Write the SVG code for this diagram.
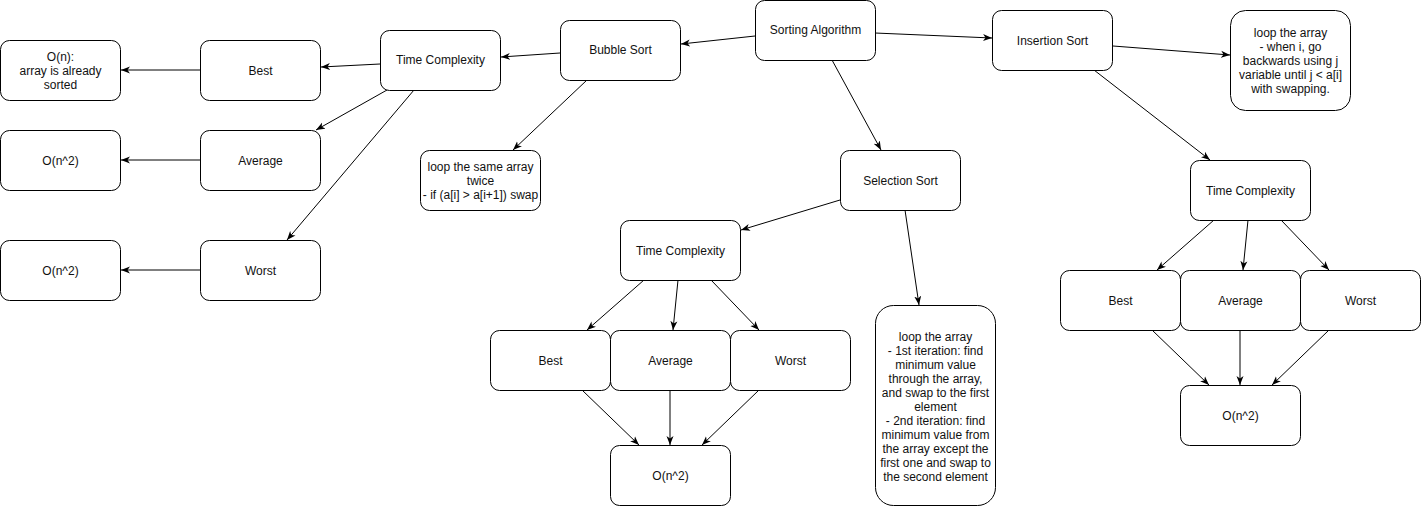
<svg xmlns="http://www.w3.org/2000/svg" width="1421" height="506" viewBox="0 0 1421 506">
<style>
.n rect{fill:#fff;stroke:#000;stroke-width:1}
.n text{font-family:"Liberation Sans",Arial,Helvetica,sans-serif;font-size:12px;fill:#111;text-anchor:middle}
.e line{stroke:#000;stroke-width:1;marker-end:url(#arr)}
</style>
<defs>
<marker id="arr" markerUnits="userSpaceOnUse" markerWidth="10" markerHeight="8" viewBox="0 0 10 8" refX="9" refY="4" orient="auto">
<path d="M0,0.5 L9,4 L0,7.5 L2.5,4 Z" fill="#000"/>
</marker>
</defs>
<rect width="1421" height="506" fill="#fff"/>
<g id="connectors" class="e">
<line x1="755" y1="36" x2="681" y2="44"/>
<line x1="875" y1="33" x2="992" y2="38"/>
<line x1="832" y1="60" x2="881" y2="150"/>
<line x1="560" y1="53" x2="501" y2="57"/>
<line x1="587" y1="80" x2="513" y2="150"/>
<line x1="380" y1="64" x2="321" y2="67"/>
<line x1="387" y1="90" x2="316" y2="130"/>
<line x1="414" y1="90" x2="287" y2="240"/>
<line x1="200" y1="70" x2="121" y2="70"/>
<line x1="200" y1="160" x2="121" y2="160"/>
<line x1="200" y1="270" x2="121" y2="270"/>
<line x1="1113" y1="46" x2="1230" y2="55"/>
<line x1="1094" y1="70" x2="1210" y2="160"/>
<line x1="840" y1="200" x2="741" y2="230"/>
<line x1="905" y1="210" x2="919" y2="305"/>
<line x1="644" y1="280" x2="587" y2="330"/>
<line x1="678" y1="280" x2="673" y2="330"/>
<line x1="711" y1="280" x2="759" y2="330"/>
<line x1="582" y1="390" x2="639" y2="445"/>
<line x1="670" y1="390" x2="670" y2="445"/>
<line x1="759" y1="390" x2="702" y2="445"/>
<line x1="1214" y1="220" x2="1157" y2="270"/>
<line x1="1248" y1="220" x2="1243" y2="270"/>
<line x1="1281" y1="220" x2="1329" y2="270"/>
<line x1="1152" y1="330" x2="1209" y2="385"/>
<line x1="1240" y1="330" x2="1240" y2="385"/>
<line x1="1329" y1="330" x2="1272" y2="385"/>
</g>
<g id="sorting" class="n"><rect x="755.5" y="0.5" width="120" height="60" rx="9"/><text x="815.5" y="34">Sorting Algorithm</text></g>
<g id="bubble" class="n"><rect x="560.5" y="20.5" width="120" height="60" rx="9"/><text x="620.5" y="54">Bubble Sort</text></g>
<g id="bubble-desc" class="n"><rect x="420.5" y="150.5" width="120" height="60" rx="9"/><text x="480.5" y="171">loop the same array</text><text x="480.5" y="185">twice</text><text x="480.5" y="199">- if (a[i] &gt; a[i+1]) swap</text></g>
<g id="bubble-tc" class="n"><rect x="380.5" y="30.5" width="120" height="60" rx="9"/><text x="440.5" y="64">Time Complexity</text></g>
<g id="bubble-best" class="n"><rect x="200.5" y="40.5" width="120" height="60" rx="9"/><text x="260.5" y="75">Best</text></g>
<g id="bubble-avg" class="n"><rect x="200.5" y="130.5" width="120" height="60" rx="9"/><text x="260.5" y="165">Average</text></g>
<g id="bubble-worst" class="n"><rect x="200.5" y="240.5" width="120" height="60" rx="9"/><text x="260.5" y="275">Worst</text></g>
<g id="bubble-best-val" class="n"><rect x="0.5" y="40.5" width="120" height="60" rx="9"/><text x="60.5" y="61">O(n):</text><text x="60.5" y="75">array is already</text><text x="60.5" y="89">sorted</text></g>
<g id="bubble-avg-val" class="n"><rect x="0.5" y="130.5" width="120" height="60" rx="9"/><text x="60.5" y="165">O(n^2)</text></g>
<g id="bubble-worst-val" class="n"><rect x="0.5" y="240.5" width="120" height="60" rx="9"/><text x="60.5" y="275">O(n^2)</text></g>
<g id="insertion" class="n"><rect x="992.5" y="10.5" width="120" height="60" rx="9"/><text x="1052.5" y="45">Insertion Sort</text></g>
<g id="insertion-desc" class="n"><rect x="1230.5" y="10.5" width="120" height="100" rx="15"/><text x="1290.5" y="37">loop the array</text><text x="1290.5" y="51">- when i, go</text><text x="1290.5" y="65">backwards using j</text><text x="1290.5" y="79">variable until j &lt; a[i]</text><text x="1290.5" y="93">with swapping.</text></g>
<g id="insertion-tc" class="n"><rect x="1190.5" y="160.5" width="120" height="60" rx="9"/><text x="1250.5" y="195">Time Complexity</text></g>
<g id="insertion-best" class="n"><rect x="1060.5" y="270.5" width="120" height="60" rx="9"/><text x="1120.5" y="305">Best</text></g>
<g id="insertion-avg" class="n"><rect x="1180.5" y="270.5" width="120" height="60" rx="9"/><text x="1240.5" y="305">Average</text></g>
<g id="insertion-worst" class="n"><rect x="1300.5" y="270.5" width="120" height="60" rx="9"/><text x="1360.5" y="305">Worst</text></g>
<g id="insertion-val" class="n"><rect x="1180.5" y="385.5" width="120" height="60" rx="9"/><text x="1240.5" y="420">O(n^2)</text></g>
<g id="selection" class="n"><rect x="840.5" y="150.5" width="120" height="60" rx="9"/><text x="900.5" y="185">Selection Sort</text></g>
<g id="selection-desc" class="n"><rect x="875.5" y="305.5" width="120" height="200" rx="18"/><text x="935.5" y="341">loop the array</text><text x="935.5" y="355">- 1st iteration: find</text><text x="935.5" y="369">minimum value</text><text x="935.5" y="383">through the array,</text><text x="935.5" y="397">and swap to the first</text><text x="935.5" y="411">element</text><text x="935.5" y="425">- 2nd iteration: find</text><text x="935.5" y="439">minimum value from</text><text x="935.5" y="453">the array except the</text><text x="935.5" y="467">first one and swap to</text><text x="935.5" y="481">the second element</text></g>
<g id="selection-tc" class="n"><rect x="620.5" y="220.5" width="120" height="60" rx="9"/><text x="680.5" y="255">Time Complexity</text></g>
<g id="selection-best" class="n"><rect x="490.5" y="330.5" width="120" height="60" rx="9"/><text x="550.5" y="365">Best</text></g>
<g id="selection-avg" class="n"><rect x="610.5" y="330.5" width="120" height="60" rx="9"/><text x="670.5" y="365">Average</text></g>
<g id="selection-worst" class="n"><rect x="730.5" y="330.5" width="120" height="60" rx="9"/><text x="790.5" y="365">Worst</text></g>
<g id="selection-val" class="n"><rect x="610.5" y="445.5" width="120" height="60" rx="9"/><text x="670.5" y="480">O(n^2)</text></g>
</svg>
